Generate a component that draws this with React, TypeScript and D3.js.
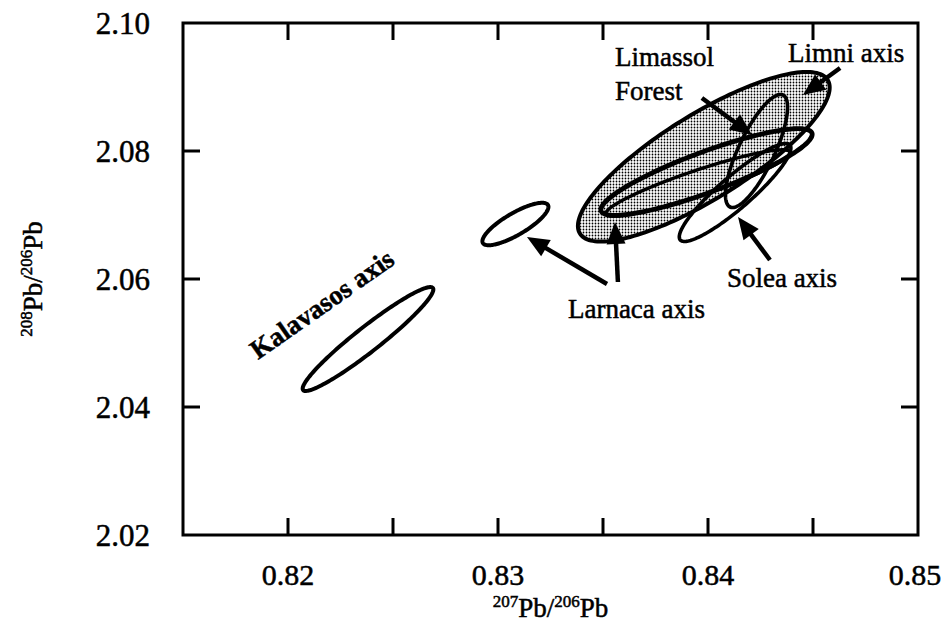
import React from 'react';
import * as d3 from 'd3';

const W = 943;
const H = 628;

// Axis ranges and ticks
const xDomain: [number, number] = [0.815, 0.85];
const yDomain: [number, number] = [2.02, 2.1];
const xTickLabels = [0.82, 0.83, 0.84, 0.85];
const xTickMarks = [0.82, 0.825, 0.83, 0.835, 0.84, 0.845];
const yTickLabels = [2.02, 2.04, 2.06, 2.08, 2.1];
const yTickMarks = [2.04, 2.06, 2.08];

// Ore-field ellipses: centre, end of the major axis, minor/major ratio
const ellipseNames = ['Limassol Forest', 'Kalavasos', 'Larnaca', 'Larnaca main', 'Larnaca inner', 'Solea', 'Limni'];
const ellipseCx = [0.8398, 0.82381, 0.83083, 0.83993, 0.83952, 0.84129, 0.84231];
const ellipseCy = [2.0791, 2.05062, 2.06859, 2.07672, 2.075, 2.07352, 2.08];
const ellipseTipX = [0.8457, 0.8269, 0.83238, 0.84495, 0.8439, 0.8439, 0.84357];
const ellipseTipY = [2.0911, 2.05859, 2.07156, 2.08281, 2.07984, 2.08094, 2.08875];
const ellipseRatio = [0.29, 0.15, 0.29, 0.18, 0.13, 0.22, 0.29];
const ellipseShaded = [true, false, false, false, false, false, false];
const ellipseStroke = [4, 4, 4, 4.8, 3.4, 3.6, 3.6];

// Leader arrows: tail -> head
const arrowTailX = [0.83519, 0.83571, 0.84295, 0.83971, 0.84629];
const arrowTailY = [2.05922, 2.05953, 2.06297, 2.08828, 2.09297];
const arrowHeadX = [0.83138, 0.83557, 0.84143, 0.8421, 0.84452];
const arrowHeadY = [2.06656, 2.06891, 2.06969, 2.0825, 2.08875];

// Annotation text (anchor at start of baseline)
const noteText = ['Larnaca axis', 'Solea axis', 'Limassol', 'Forest', 'Limni axis', 'Kalavasos axis'];
const noteX = [0.83333, 0.8409, 0.83557, 0.83557, 0.84381, 0.81857];
const noteY = [2.05391, 2.05875, 2.09328, 2.08797, 2.09391, 2.04734];
const noteAngle = [0, 0, 0, 0, 0, -35];

const FONT = '"Liberation Serif", "Times New Roman", serif';

export default function App() {
  const left = 183, right = 918, top = 23, bottom = 535;
  const x = d3.scaleLinear().domain(xDomain).range([left, right]);
  const y = d3.scaleLinear().domain(yDomain).range([bottom, top]);
  const tick = 17;

  const line = d3.line<[number, number]>().curve(d3.curveLinearClosed);
  const ellipsePath = (i: number) => {
    const cx = x(ellipseCx[i]), cy = y(ellipseCy[i]);
    const ux = x(ellipseTipX[i]) - cx, uy = y(ellipseTipY[i]) - cy;
    const vx = -uy * ellipseRatio[i], vy = ux * ellipseRatio[i];
    const pts: [number, number][] = d3.range(0, 180).map((k) => {
      const t = (k / 180) * Math.PI * 2;
      return [cx + ux * Math.cos(t) + vx * Math.sin(t), cy + uy * Math.cos(t) + vy * Math.sin(t)];
    });
    return line(pts) as string;
  };

  const arrow = (i: number) => {
    const x0 = x(arrowTailX[i]), y0 = y(arrowTailY[i]);
    const x1 = x(arrowHeadX[i]), y1 = y(arrowHeadY[i]);
    const dx = x1 - x0, dy = y1 - y0;
    const len = Math.hypot(dx, dy);
    const ux = dx / len, uy = dy / len;
    const hl = 22, hw = 9.5;
    const bx = x1 - ux * hl, by = y1 - uy * hl;
    const head = [
      [x1, y1],
      [bx - uy * hw, by + ux * hw],
      [bx + uy * hw, by - ux * hw],
    ].map((p) => p.join(',')).join(' ');
    return (
      <g key={'a' + i}>
        <line x1={x0} y1={y0} x2={bx + ux * 2} y2={by + uy * 2} stroke="#000" strokeWidth={4.5} />
        <polygon points={head} fill="#000" />
      </g>
    );
  };

  const textStyle = { stroke: '#000', strokeWidth: 0.5 };

  return (
    <svg width={W} height={H} style={{ position: 'absolute', left: 0, top: 0, background: '#fff' }}>
      <defs>
        <pattern id="stipple" width={3} height={3} patternUnits="userSpaceOnUse">
          <rect width={3} height={3} fill="#fff" />
          <circle cx={1.5} cy={1.5} r={0.9} fill="#000" />
        </pattern>
      </defs>

      {/* ellipses */}
      {ellipseNames.map((name, i) => (
        <path
          key={name}
          d={ellipsePath(i)}
          fill={ellipseShaded[i] ? 'url(#stipple)' : 'none'}
          stroke="#000"
          strokeWidth={ellipseStroke[i]}
        />
      ))}

      {/* arrows */}
      {arrowTailX.map((_, i) => arrow(i))}

      {/* annotations */}
      {noteText.map((t, i) => (
        <text
          key={t}
          x={x(noteX[i])}
          y={y(noteY[i])}
          transform={noteAngle[i] ? `rotate(${noteAngle[i]} ${x(noteX[i])} ${y(noteY[i])})` : undefined}
          fontFamily={FONT}
          fontSize={27}
          fontWeight={noteAngle[i] ? 'bold' : 'normal'}
          fill="#000"
          style={textStyle}
        >
          {t}
        </text>
      ))}

      {/* frame */}
      <rect x={left} y={top} width={right - left} height={bottom - top} fill="none" stroke="#000" strokeWidth={3} />

      {/* inward ticks */}
      {xTickMarks.map((v) => (
        <g key={'xt' + v}>
          <line x1={x(v)} x2={x(v)} y1={bottom} y2={bottom - tick} stroke="#000" strokeWidth={3} />
          <line x1={x(v)} x2={x(v)} y1={top} y2={top + tick} stroke="#000" strokeWidth={3} />
        </g>
      ))}
      {yTickMarks.map((v) => (
        <g key={'yt' + v}>
          <line x1={left} x2={left + tick} y1={y(v)} y2={y(v)} stroke="#000" strokeWidth={3} />
          <line x1={right} x2={right - tick} y1={y(v)} y2={y(v)} stroke="#000" strokeWidth={3} />
        </g>
      ))}

      {/* tick labels */}
      {xTickLabels.map((v) => {
        const px = Math.min(x(v), W - 28);
        return (
          <text key={'xl' + v} x={px} y={585} textAnchor="middle" fontFamily={FONT} fontSize={30} fill="#000" style={textStyle}>
            {d3.format('.2f')(v)}
          </text>
        );
      })}
      {yTickLabels.map((v) => (
        <text key={'yl' + v} x={150} y={y(v)} dy="0.35em" textAnchor="end" fontFamily={FONT} fontSize={31} fill="#000" style={textStyle}>
          {d3.format('.2f')(v)}
        </text>
      ))}

      {/* axis titles */}
      <text x={(left + right) / 2} y={617} textAnchor="middle" fontFamily={FONT} fontSize={27} fill="#000" style={textStyle}>
        <tspan fontSize={17} dy={-10}>207</tspan>
        <tspan dy={10}>Pb/</tspan>
        <tspan fontSize={17} dy={-10}>206</tspan>
        <tspan dy={10}>Pb</tspan>
      </text>
      <text
        transform={`translate(42, ${(top + bottom) / 2}) rotate(-90)`}
        textAnchor="middle"
        fontFamily={FONT}
        fontSize={27}
        fill="#000"
        style={textStyle}
      >
        <tspan fontSize={17} dy={-10}>208</tspan>
        <tspan dy={10}>Pb/</tspan>
        <tspan fontSize={17} dy={-10}>206</tspan>
        <tspan dy={10}>Pb</tspan>
      </text>
    </svg>
  );
}
